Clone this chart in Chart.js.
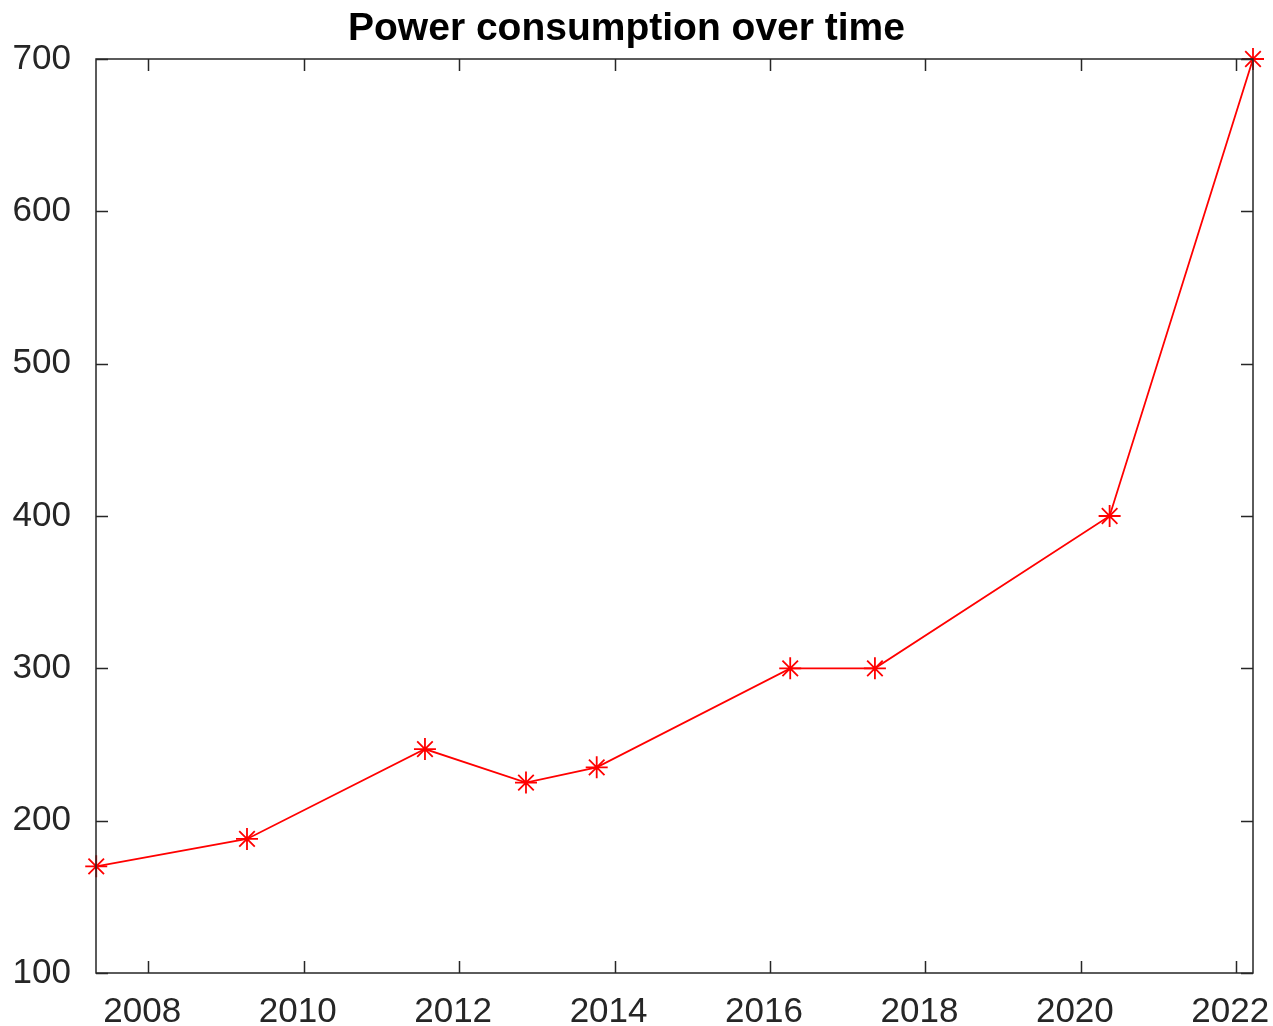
<!DOCTYPE html>
<html>
<head>
<meta charset="utf-8">
<script src="https://cdn.jsdelivr.net/npm/chart.js@4/dist/chart.umd.min.js"></script>
<style>
  html, body { margin: 0; padding: 0; background: #fff; }
  #wrap { width: 1273px; height: 1026px; }
</style>
</head>
<body>
<div id="wrap"><canvas id="power-chart" width="1273" height="1026"></canvas></div>
<script>
// decimal years
const years = [2007.33, 2009.27, 2011.56, 2012.86, 2013.77, 2016.26, 2017.35, 2020.37, 2022.215]
const power = [170, 188, 247, 225, 235, 300, 300, 400, 700]
const xTicks = [2008, 2010, 2012, 2014, 2016, 2018, 2020, 2022]
const yTicks = [100, 200, 300, 400, 500, 600, 700]

const axisColor = '#262626'
const tickFont = { family: 'Liberation Sans', size: 35 }

// octave style box with inward ticks on all four sides
const frame = {
  id: 'frame',
  afterDraw(chart) {
    const { ctx, chartArea: a, scales } = chart
    const len = 12
    ctx.save()
    ctx.strokeStyle = axisColor
    ctx.lineWidth = 1.5
    ctx.strokeRect(a.left, a.top, a.right - a.left, a.bottom - a.top)
    ctx.beginPath()
    xTicks.forEach(v => {
      const x = Math.round(scales.x.getPixelForValue(v)) + 0.5
      ctx.moveTo(x, a.bottom); ctx.lineTo(x, a.bottom - len)
      ctx.moveTo(x, a.top); ctx.lineTo(x, a.top + len)
    })
    yTicks.forEach(v => {
      const y = Math.round(scales.y.getPixelForValue(v)) + 0.5
      ctx.moveTo(a.left, y); ctx.lineTo(a.left + len, y)
      ctx.moveTo(a.right, y); ctx.lineTo(a.right - len, y)
    })
    ctx.stroke()
    ctx.restore()
  }
}

new Chart(document.getElementById('power-chart'), {
  type: 'line',
  data: {
    datasets: [{
      data: years.map((x, i) => ({ x: x, y: power[i] })),
      borderColor: '#ff0000',
      borderWidth: 1.8,
      pointStyle: 'star',
      pointRadius: 11,
      pointBorderWidth: 1.8,
      pointBorderColor: '#ff0000',
      pointBackgroundColor: '#ff0000',
      fill: false,
      tension: 0,
      clip: false
    }]
  },
  options: {
    responsive: false,
    animation: false,
    layout: { padding: { top: 0, right: 20, bottom: 0, left: 0 } },
    plugins: {
      legend: { display: false },
      tooltip: { enabled: false },
      title: {
        display: true,
        text: 'Power consumption over time',
        color: '#000',
        font: { family: 'Liberation Sans', size: 39, weight: 'bold', lineHeight: 1.2 },
        padding: { top: 6, bottom: 6.2 }
      }
    },
    scales: {
      x: {
        type: 'linear',
        min: 2007.327,
        max: 2022.215,
        afterBuildTicks: s => { s.ticks = xTicks.map(v => ({ value: v })) },
        afterFit: s => { s.height = 53; s.paddingLeft = 0; s.paddingRight = 0 },
        grid: { display: false, drawTicks: false },
        border: { display: false },
        ticks: {
          color: axisColor,
          font: tickFont,
          padding: 18,
          labelOffset: -6,
          maxRotation: 0,
          autoSkip: false,
          callback: v => String(v)
        }
      },
      y: {
        min: 100,
        max: 700,
        afterBuildTicks: s => { s.ticks = yTicks.map(v => ({ value: v })) },
        afterFit: s => { s.width = 96; s.paddingTop = 0; s.paddingBottom = 0 },
        grid: { display: false, drawTicks: false },
        border: { display: false },
        ticks: {
          color: axisColor,
          font: tickFont,
          padding: 25,
          callback: v => String(v)
        }
      }
    }
  },
  plugins: [frame]
});
</script>
</body>
</html>
